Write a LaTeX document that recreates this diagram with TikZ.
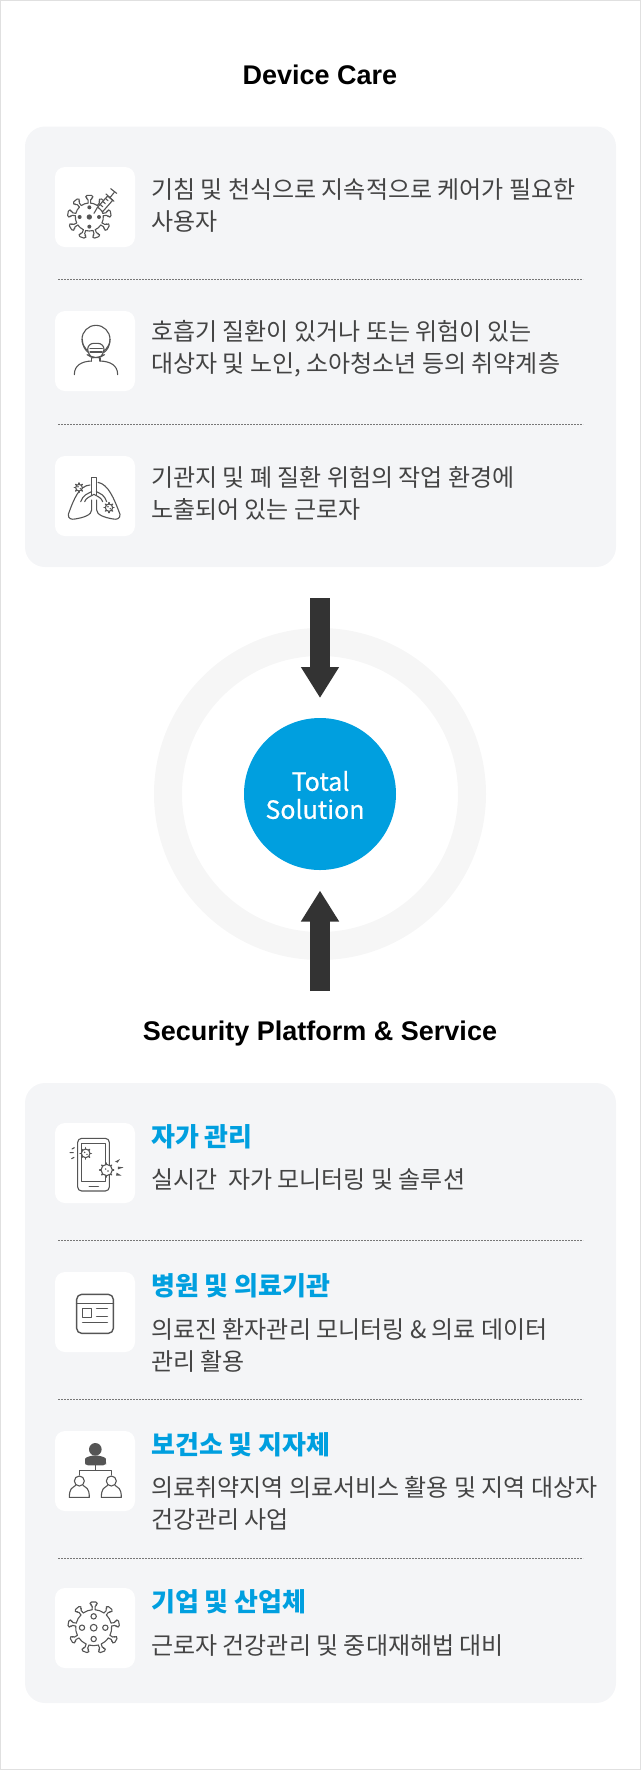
\documentclass[tikz,border=0pt]{standalone}
\usepackage{fontspec}
\setmainfont{Liberation Sans}
\newfontfamily\kr{Noto Sans CJK KR}
\newfontfamily\krm[FakeBold=0.4]{Noto Sans CJK KR}
\usetikzlibrary{arrows.meta,positioning}
\definecolor{panelcol}{HTML}{F4F5F7}
\definecolor{ringcol}{HTML}{F6F6F6}
\definecolor{bluecol}{HTML}{009FDF}
\definecolor{textcol}{HTML}{444444}
\definecolor{iconcol}{HTML}{555555}
\definecolor{dotcol}{HTML}{777777}
\definecolor{arrowcol}{HTML}{333333}

\tikzset{
 ico/.style={draw=iconcol, line width=1.1pt, line cap=round, line join=round},
 pics/germ/.style={code={
  \foreach \a in {0,45,...,315} \draw[ico,line width=1.5pt] (\a:#1) -- (\a:#1+4);
  \draw[ico,fill=white] (0,0) circle (#1);
  \fill[iconcol] (-3,-3) circle (2.5) (4,3) circle (2.5);
 }},
 pics/virus/.style={code={
  \foreach \a in {90,50,10,-30,-70,-110,-150,170,130} {
   \begin{scope}[rotate=\a]
    \draw[ico,rounded corners=1.5pt] (-5:#1) -- (#1+14,-4) -- (#1+14,-11) -- (#1+23,-11)
     -- (#1+23,11) -- (#1+14,11) -- (#1+14,4) -- (5:#1);
    \draw[ico] (5:#1) arc[start angle=5,end angle=35,radius=#1];
   \end{scope}
  }
 }},
 pics/coughicon/.style={code={
  \begin{scope}[x=.3333pt,y=-.3333pt,shift={(-165,-153)}]
   \begin{scope}[shift={(148,183)}]
    \pic {virus=42};
    \fill[iconcol] (0,0) circle (8) (0,-29) circle (6) (0,29) circle (6) (-29,0) circle (6) (29,0) circle (6);
   \end{scope}
   \draw[ico,fill=white] (173,153) -- (203,120) -- (218,133) -- (188,167) -- cycle;
   \draw[ico] (173,153) -- (162,172) (180,145) -- (188,152) (188,136) -- (196,143) (196,127) -- (204,134);
   \draw[ico] (198,114) -- (222,136) (210,125) -- (222,110) (212,98) -- (230,112);
  \end{scope}
 }},
 pics/maskicon/.style={code={
  \begin{scope}[x=.3333pt,y=-.3333pt,shift={(-165,-153)}]
   \draw[ico] (168,118) circle (42);
   \draw[ico] (127,118) .. controls (128,140) and (135,150) .. (146,158);
   \draw[ico] (210,118) .. controls (209,140) and (202,150) .. (191,158);
   \draw[ico,fill=white,rounded corners=6pt] (143,130) -- (192,130) -- (192,165) -- (178,173) -- (157,173) -- (143,165) -- cycle;
   \draw[ico] (150,145) -- (187,145) (150,156) -- (187,156);
   \draw[ico] (155,175) -- (155,183) (180,175) -- (180,183);
   \draw[ico] (103,224) .. controls (103,196) and (125,184) .. (155,183);
   \draw[ico] (233,224) .. controls (233,196) and (211,184) .. (180,183);
  \end{scope}
 }},
 pics/lungicon/.style={code={
  \begin{scope}[x=.3333pt,y=-.3333pt,shift={(-165,-153)}]
   \draw[ico] (155,150) -- (155,97) -- (169,97) -- (169,150);
   \draw[ico] (150,120) .. controls (118,122) and (102,160) .. (85,208)
    .. controls (84,222) and (95,224) .. (105,222) .. controls (130,218) and (155,210) .. (155,195) -- (155,165);
   \draw[ico] (174,112) .. controls (205,118) and (222,160) .. (240,208)
    .. controls (241,222) and (230,224) .. (220,222) .. controls (195,218) and (170,210) .. (170,195) -- (170,165);
   \draw[ico] (122,170) .. controls (128,150) and (145,145) .. (155,140);
   \draw[ico] (200,170) .. controls (194,150) and (180,145) .. (169,140);
   \draw[ico] (134,170) .. controls (138,158) and (150,155) .. (162,148) .. controls (174,155) and (184,158) .. (188,170);
   \pic at (117,128) {germ=10};
   \pic at (207,188) {germ=11};
  \end{scope}
 }},
 pics/phoneicon/.style={code={
  \begin{scope}[x=.3333pt,y=-.3333pt,shift={(-165,-159)}]
   \draw[ico,rounded corners=4pt] (113,85) rectangle (208,243);
   \draw[ico] (125,100) rectangle (197,214);
   \draw[ico,line width=1.5pt] (148,229) -- (175,229);
   \pic at (137,130) {germ=13};
   \pic at (200,180) {germ=17};
   \draw[ico] (103,113) -- (96,117) (100,128) -- (90,128) (102,142) -- (95,146);
   \fill[iconcol] (225,155) -- (240,147) -- (233,158) -- cycle
    (234,170) -- (251,172) -- (234,178) -- cycle (230,188) -- (245,197) -- (228,197) -- cycle;
  \end{scope}
 }},
 pics/docicon/.style={code={
  \begin{scope}[x=.3333pt,y=-.3333pt,shift={(-165,-156)}]
   \draw[ico,line width=1.4pt,rounded corners=5pt] (110,103) rectangle (220,220);
   \draw[ico,line width=1.4pt] (110,130) -- (220,130);
   \draw[ico,line width=1.4pt] (127,145) rectangle (155,173);
   \draw[ico,line width=1.4pt] (170,145) -- (202,145) (170,169) -- (202,169) (128,188) -- (202,188);
  \end{scope}
 }},
 pics/peopleicon/.style={code={
  \begin{scope}[x=.3333pt,y=-.3333pt,shift={(-165,-153)}]
   \fill[iconcol] (166,88) circle (19);
   \fill[iconcol,rounded corners=3pt] (135,136) -- (135,125) .. controls (136,112) and (150,108) .. (166,106)
    .. controls (182,108) and (197,112) .. (198,125) -- (198,136) -- cycle;
   \draw[ico,line width=1pt] (166,136) -- (166,150) (117,165) -- (117,152) -- (215,152) -- (215,165);
   \foreach \px in {118,214} {
    \draw[ico] (\px,183) circle (15);
    \draw[ico] (\px-11,196) .. controls (\px-20,202) and (\px-30,204) .. (\px-30,232) -- (\px+30,232)
     .. controls (\px+30,204) and (\px+20,202) .. (\px+11,196);
   }
  \end{scope}
 }},
 pics/plantvirusicon/.style={code={
  \begin{scope}[x=.3333pt,y=-.3333pt,shift={(-165,-145)}]
   \begin{scope}[shift={(161,144)}]
    \pic {virus=54};
    \draw[ico] (0,0) circle (10) (0,-34) circle (8) (0,34) circle (8) (-35,0) circle (8) (35,0) circle (8);
   \end{scope}
  \end{scope}
 }}
}

\begin{document}
\begin{tikzpicture}[x=1pt,y=-1pt]
\tikzstyle{iconbox} = [rectangle, fill=white, rounded corners=10pt, minimum size=80pt, inner sep=0pt]
\tikzstyle{title} = [anchor=base, font=\bfseries\fontsize{27}{32}\selectfont, text=black, inner sep=0pt]
\tikzstyle{bodytext} = [anchor=west, align=left, inner sep=0pt, text=textcol, font=\kr\fontsize{24}{32}\selectfont]
\tikzstyle{headtext} = [anchor=west, inner sep=0pt, text=bluecol, font=\kr\bfseries\fontsize{26}{32}\selectfont]
\tikzstyle{sepline} = [draw=dotcol, line width=1.6pt, dash pattern=on 1.6pt off 1.4pt]
\tikzstyle{bigarrow} = [draw=arrowcol, line width=20pt, -{Triangle[width=36pt,length=31pt]}]

\useasboundingbox (0,0) rectangle (641,1770);
\draw[draw=black!12, line width=1pt] (0.5,0.5) rectangle (640.5,1769.5);

\node [title] (caretitle) at (320,84.5) {Device Care};
\fill [panelcol, rounded corners=20pt] (25,126.5) rectangle (616,567);

% care rows
\node [iconbox] (coughbox) at (95,207) {};
\node [iconbox] (maskbox) at (95,351) {};
\node [iconbox] (lungbox) at (95,496) {};
\pic at (coughbox.center) {coughicon};
\pic at (maskbox.center) {maskicon};
\pic at (lungbox.center) {lungicon};
\node [bodytext] (coughtext) at (151,205.5) {기침 및 천식으로 지속적으로 케어가 필요한\\사용자};
\node [bodytext] (masktext) at (151,348.5) {호흡기 질환이 있거나 또는 위험이 있는\\대상자 및 노인, 소아청소년 등의 취약계층};
\node [bodytext] (lungtext) at (151,493.5) {기관지 및 폐 질환 위험의 작업 환경에\\노출되어 있는 근로자};
\foreach \y in {279.5,424.5}
 \draw [sepline] (58,\y) -- (583,\y);

% middle
\draw [ringcol, line width=28pt] (320,794) circle (152);
\node [circle, fill=bluecol, minimum size=152pt, inner sep=0pt] (hub) at (320,794) {};
\node [text=white, align=center, inner sep=0pt, font=\krm\fontsize{25}{28}\selectfont] (hubtext) at (315,795) {\hspace{11pt}Total\\Solution};
\coordinate (topstart) at (320,598);
\coordinate (topend) at (320,698);
\coordinate (botstart) at (320,991);
\coordinate (botend) at (320,890.5);
\draw [bigarrow] (topstart) -- (topend);
\draw [bigarrow] (botstart) -- (botend);

\node [title] (sectitle) at (320,1040.5) {Security Platform \& Service};
\fill [panelcol, rounded corners=20pt] (25,1083) rectangle (616,1703);

% security rows
\node [iconbox] (phonebox) at (95,1163) {};
\node [iconbox] (docbox) at (95,1312) {};
\node [iconbox] (peoplebox) at (95,1471) {};
\node [iconbox] (virusbox) at (95,1628) {};
\pic at (phonebox.center) {phoneicon};
\pic at (docbox.center) {docicon};
\pic at (peoplebox.center) {peopleicon};
\pic at (virusbox.center) {plantvirusicon};
\node [headtext] (selfhead) at (151,1137) {자가 관리};
\node [bodytext] (selftext) at (151,1179.5) {실시간\ \ 자가 모니터링 및 솔루션};
\node [headtext] (hosphead) at (151,1286) {병원 및 의료기관};
\node [bodytext] (hosptext) at (151,1345.5) {의료진 환자관리 모니터링 \& 의료 데이터\\관리 활용};
\node [headtext] (pubhead) at (151,1445) {보건소 및 지자체};
\node [bodytext] (pubtext) at (151,1503.5) {의료취약지역 의료서비스 활용 및 지역 대상자\\건강관리 사업};
\node [headtext] (corphead) at (151,1602) {기업 및 산업체};
\node [bodytext] (corptext) at (151,1645.5) {근로자 건강관리 및 중대재해법 대비};
\foreach \y in {1240.5,1399.5,1558.5}
 \draw [sepline] (58,\y) -- (583,\y);

\end{tikzpicture}
\end{document}
